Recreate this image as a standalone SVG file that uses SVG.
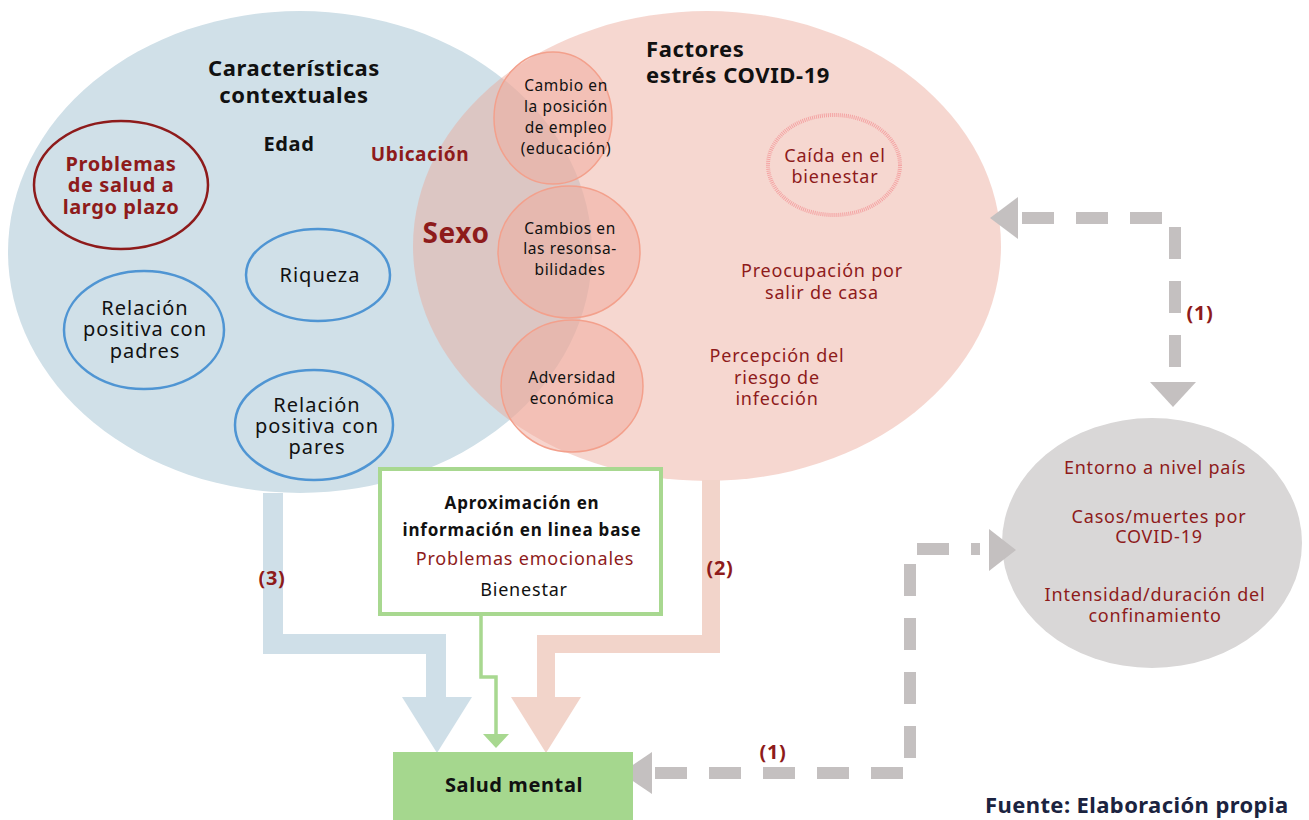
<svg xmlns="http://www.w3.org/2000/svg" width="1309" height="820" viewBox="0 0 1309 820">
<style>
text{font-family:"Noto Sans","Open Sans","DejaVu Sans",sans-serif;text-anchor:middle}
.b{font-weight:bold;letter-spacing:0.6px}
.dr{fill:#8e1b1b}
.k{fill:#111}
.s15{font-size:15.5px;letter-spacing:0.6px}
.s17{font-size:18px;letter-spacing:0.8px}
.s20{font-size:20px;letter-spacing:1px}
.b.s20{letter-spacing:0.6px}
.b.s17{font-size:17px;letter-spacing:0.8px}
.blu{fill:none;stroke:#4f95d3;stroke-width:2.5}
.sm{fill:#f0aa9c;fill-opacity:0.5;stroke:#f3a08c;stroke-width:1.5}
.dash{fill:none;stroke:#c4c0c0;stroke-width:12;stroke-dasharray:32 22}
.ah{fill:#c4c0c0}
</style>
<rect width="1309" height="820" fill="#fff"/>
<g id="contextuales">
<ellipse cx="300" cy="252" rx="292" ry="241" fill="#d0e0e8"/>
</g>
<g id="factores">
<ellipse cx="707" cy="246" rx="294" ry="235" fill="#eba796" fill-opacity="0.45"/>
</g>
<g id="ctx-labels">
<text class="b k" font-size="22" x="294" y="76">Características</text>
<text class="b k" font-size="22" x="294" y="103">contextuales</text>
<text class="b k s20" x="289" y="151">Edad</text>
<text class="b dr" font-size="19" x="420" y="161">Ubicación</text>
<text class="b dr" font-size="28" x="456" y="243">Sexo</text>
</g>
<g id="problemas">
<ellipse cx="121" cy="185" rx="87" ry="64" fill="none" stroke="#8e1b1b" stroke-width="2.5"/>
<text class="b dr s20" x="121" y="171">Problemas</text>
<text class="b dr s20" x="121" y="192">de salud a</text>
<text class="b dr s20" x="121" y="214">largo plazo</text>
</g>
<g id="riqueza">
<ellipse cx="318" cy="275" rx="72" ry="46" class="blu"/>
<text class="k s20" x="320" y="282">Riqueza</text>
</g>
<g id="padres">
<ellipse cx="144" cy="330" rx="80" ry="59" class="blu"/>
<text class="k s20" x="145" y="315">Relación</text>
<text class="k s20" x="145" y="336">positiva con</text>
<text class="k s20" x="145" y="358">padres</text>
</g>
<g id="pares">
<ellipse cx="314" cy="425" rx="79" ry="55" class="blu"/>
<text class="k s20" x="317" y="412">Relación</text>
<text class="k s20" x="317" y="433">positiva con</text>
<text class="k s20" x="317" y="454">pares</text>
</g>
<g id="fact-title">
<text class="b k" font-size="22" x="646" y="57" style="text-anchor:start">Factores</text>
<text class="b k" font-size="22" x="646" y="83" style="text-anchor:start">estrés COVID-19</text>
</g>
<g id="empleo">
<ellipse cx="553" cy="118" rx="59" ry="66" class="sm"/>
<text class="k s15" x="566" y="91">Cambio en</text>
<text class="k s15" x="566" y="112">la posición</text>
<text class="k s15" x="566" y="133">de empleo</text>
<text class="k s15" x="566" y="154">(educación)</text>
</g>
<g id="responsabilidades">
<ellipse cx="569" cy="252" rx="71" ry="66" class="sm"/>
<text class="k s15" x="570" y="234">Cambios en</text>
<text class="k s15" x="570" y="254">las resonsa-</text>
<text class="k s15" x="570" y="275">bilidades</text>
</g>
<g id="adversidad">
<ellipse cx="572" cy="386" rx="71" ry="66" class="sm"/>
<text class="k s15" x="572" y="383">Adversidad</text>
<text class="k s15" x="572" y="404">económica</text>
</g>
<g id="caida">
<ellipse cx="834" cy="165" rx="66" ry="50" fill="none" stroke="#f4a3a3" stroke-width="4" stroke-dasharray="1 1"/>
<text class="dr s17" x="835" y="162">Caída en el</text>
<text class="dr s17" x="835" y="183">bienestar</text>
</g>
<g id="preocupacion">
<text class="dr s17" x="822" y="277">Preocupación por</text>
<text class="dr s17" x="822" y="299">salir de casa</text>
</g>
<g id="percepcion">
<text class="dr s17" x="777" y="362">Percepción del</text>
<text class="dr s17" x="777" y="384">riesgo de</text>
<text class="dr s17" x="777" y="405">infección</text>
</g>
<g id="entorno">
<ellipse cx="1152" cy="543" rx="150" ry="125" fill="#d9d7d7"/>
<text class="dr s17" x="1155" y="474">Entorno a nivel país</text>
<text class="dr s17" x="1159" y="523">Casos/muertes por</text>
<text class="dr s17" x="1159" y="543">COVID-19</text>
<text class="dr s17" x="1155" y="601">Intensidad/duración del</text>
<text class="dr s17" x="1155" y="622">confinamiento</text>
</g>
<g id="connectors">
<polyline points="273,493 273,644 436,644 436,700" fill="none" stroke="#cfdfe8" stroke-width="20"/>
<polygon points="402,697 472,697 437,753" fill="#cfdfe8"/>
<polyline points="711,480 711,644 546,644 546,700" fill="none" stroke="#f2d4ca" stroke-width="18"/>
<polygon points="511,697 581,697 546,753" fill="#f2d4ca"/>
<polyline points="481,615 481,677 496,677 496,736" fill="none" stroke="#a8d890" stroke-width="3.5"/>
<polygon points="483,734 509,734 496,748" fill="#a8d890"/>
<polyline points="1022,218 1175,218 1175,384" class="dash"/>
<polygon points="990,218 1018,197 1018,239" class="ah"/>
<polygon points="1150,382 1196,382 1173,407" class="ah"/>
<polyline points="655,773 910,773 910,549 980,549" class="dash"/>
<polygon points="621,773 652,752 652,794" class="ah"/>
<polygon points="1016,550 989,529 989,571" class="ah"/>
<text class="b dr s20" x="1200" y="320">(1)</text>
<text class="b dr s20" x="773" y="759">(1)</text>
<text class="b dr s20" x="272" y="585">(3)</text>
<text class="b dr s20" x="720" y="575">(2)</text>
</g>
<g id="baseline">
<rect x="380" y="469" width="281" height="145" fill="#fff" stroke="#a8d890" stroke-width="4"/>
<text class="b k s17" x="522" y="509">Aproximación en</text>
<text class="b k s17" x="522" y="536">información en linea base</text>
<text class="dr s17" x="525" y="565">Problemas emocionales</text>
<text class="k s17" x="524" y="596">Bienestar</text>
</g>
<g id="salud">
<rect x="393" y="752" width="240" height="68" fill="#a5d78e"/>
<text class="b k s20" x="514" y="792">Salud mental</text>
</g>
<text class="b" font-size="22" x="985" y="813" fill="#1b2340" style="text-anchor:start;letter-spacing:0.4px">Fuente: Elaboración propia</text>
</svg>
